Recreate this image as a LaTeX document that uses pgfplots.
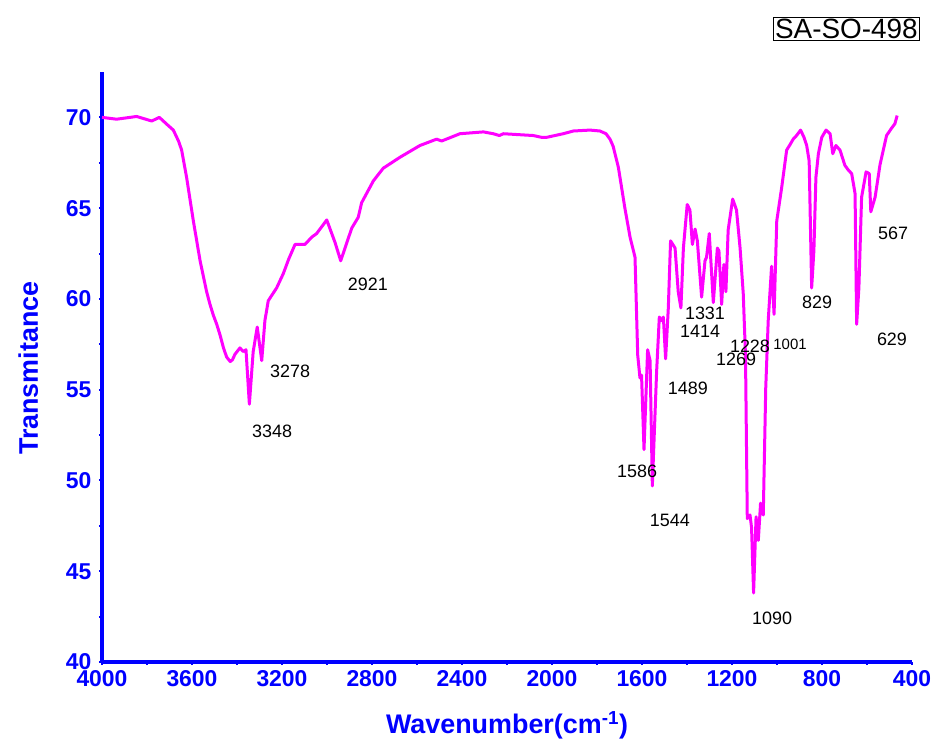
\documentclass[border=0pt]{standalone}
\usepackage{pgfplots}
\pgfplotsset{compat=1.18}
\usepackage{fontspec}
\setmainfont{Liberation Sans}
\definecolor{axblue}{RGB}{0,0,255}
\definecolor{spec}{RGB}{255,0,255}
\begin{document}
\begin{tikzpicture}
\begin{axis}[
scale only axis,
width=810bp, height=590bp,
xmin=400, xmax=4000, ymin=40, ymax=72.5,
x dir=reverse,
axis x line=bottom, axis y line=left,
axis line style={-, axblue, line width=4.5bp},
xtick={400,800,...,4000},
ytick={40,45,...,70},
minor x tick num=1, minor y tick num=1,
tick align=outside,
major tick length=3bp, minor tick length=3bp,
every tick/.style={axblue, line width=2bp},
/pgf/number format/assume math mode=true,
/pgf/number format/1000 sep={},
tick label style={font=\fontsize{23}{25}\selectfont\bfseries, text=axblue},
xticklabel style={yshift=-2bp},
yticklabel style={xshift=-4bp},
xlabel={Wavenumber(cm\textsuperscript{-1})},
ylabel={Transmitance},
label style={font=\fontsize{27}{30}\selectfont\bfseries, text=axblue},
x label style={at={(axis description cs:0.5,-0.107)}, anchor=center},
y label style={at={(axis description cs:-0.091,0.498)}, anchor=center, rotate=0},
clip=false,
]
\addplot[spec, line width=3bp, line join=round] coordinates {
(4000,70.0) (3935,69.9) (3846,70.05) (3779,69.8) (3745,70.0) (3710,69.6) (3683,69.3)
(3660,68.7) (3646,68.2) (3624,66.7) (3594,64.3) (3564,62.1) (3535,60.4) (3520,59.7)
(3505,59.1) (3490,58.6) (3475,58.0) (3460,57.3) (3446,56.8) (3430,56.55)
(3420,56.65) (3409,56.95) (3387,57.3) (3372,57.1) (3360,57.2)
(3345,54.2) (3328,57.1) (3310,58.45) (3290,56.6) (3276,58.8) (3261,59.9)
(3240,60.3) (3224,60.6) (3194,61.4) (3170,62.2) (3142,63.0) (3098,63.0) (3068,63.4)
(3046,63.6) (3001,64.35) (2964,63.1) (2939,62.1) (2920,62.8) (2890,63.9)
(2861,64.5) (2846,65.3) (2820,65.9) (2794,66.5) (2750,67.2) (2676,67.8) (2587,68.45)
(2513,68.8) (2490,68.7) (2409,69.1) (2305,69.2) (2261,69.1) (2234,69.0)
(2216,69.1) (2083,69.0) (2046,68.9) (2024,68.9) (1950,69.1) (1905,69.25)
(1831,69.3) (1787,69.25) (1760,69.1) (1742,68.8) (1728,68.4) (1705,67.25)
(1676,65.0) (1653,63.4) (1631,62.3) (1619,56.9) (1609,55.65) (1602,55.8)
(1591,51.7) (1575,57.2) (1564,56.6) (1554,49.7) (1535,56.0) (1523,59.0)
(1513,58.8) (1505,59.0) (1495,56.7) (1483,59.5) (1473,63.2) (1453,62.8)
(1439,60.4) (1427,59.5) (1416,62.8) (1399,65.2) (1387,64.9) (1376,63.0)
(1364,63.85) (1354,63.2) (1335,60.1) (1320,62.1) (1313,62.3) (1301,63.6)
(1283,59.8) (1265,62.8) (1258,62.65) (1246,59.7) (1236,61.9) (1227,60.4)
(1217,63.8) (1197,65.5) (1180,64.9) (1164,62.8) (1150,60.3) (1140,56.9)
(1132,47.9) (1120,48.1) (1113,47.4) (1104,43.8) (1093,48.0) (1083,46.7)
(1073,48.75) (1061,48.1) (1050,55.1) (1039,58.8) (1024,61.8) (1013,59.15)
(1001,64.3) (979,66.15) (957,68.2) (942,68.5) (928,68.8) (913,69.0)
(895,69.3) (880,68.9) (868,68.45) (857,67.6) (846,60.6) (836,62.65)
(827,66.7) (816,68.0) (801,68.9) (782,69.3) (764,69.1) (752,68.0)
(738,68.45) (720,68.2) (698,67.35) (683,67.1) (668,66.9) (653,65.8)
(646,58.6) (636,60.6) (624,65.6) (604,67.0) (590,66.9) (583,64.8)
(564,65.6) (542,67.4) (513,69.0) (491,69.4) (476,69.65) (466,70.1)
};
% peak labels
\begin{scope}[every node/.style={font=\fontsize{18}{20}\selectfont, inner sep=0pt}]
\node at (axis cs:3244,52.7) {3348};
\node at (axis cs:3164,56.0) {3278};
\node at (axis cs:2818,60.8) {2921};
\node at (axis cs:1622,50.5) {1586};
\node at (axis cs:1476,47.8) {1544};
\node at (axis cs:1396,55.1) {1489};
\node at (axis cs:1342,58.2) {1414};
\node at (axis cs:1320,59.2) {1331};
\node at (axis cs:1182,56.7) {1269};
\node at (axis cs:1120,57.4) {1228};
\node[font=\fontsize{15}{17}\selectfont] at (axis cs:942,57.5) {1001};
\node at (axis cs:822,59.8) {829};
\node at (axis cs:489,57.8) {629};
\node at (axis cs:484,63.6) {567};
\node at (axis cs:1022,42.4) {1090};
\end{scope}
\node[draw=black, line width=0.8bp, inner sep=2bp, font=\fontsize{28}{30}\selectfont]
  at (axis description cs:0.919,1.073) {SA-SO-498};
\end{axis}
\path[use as bounding box] (-102bp,-87bp) rectangle (836bp,662bp);
\end{tikzpicture}
\end{document}
